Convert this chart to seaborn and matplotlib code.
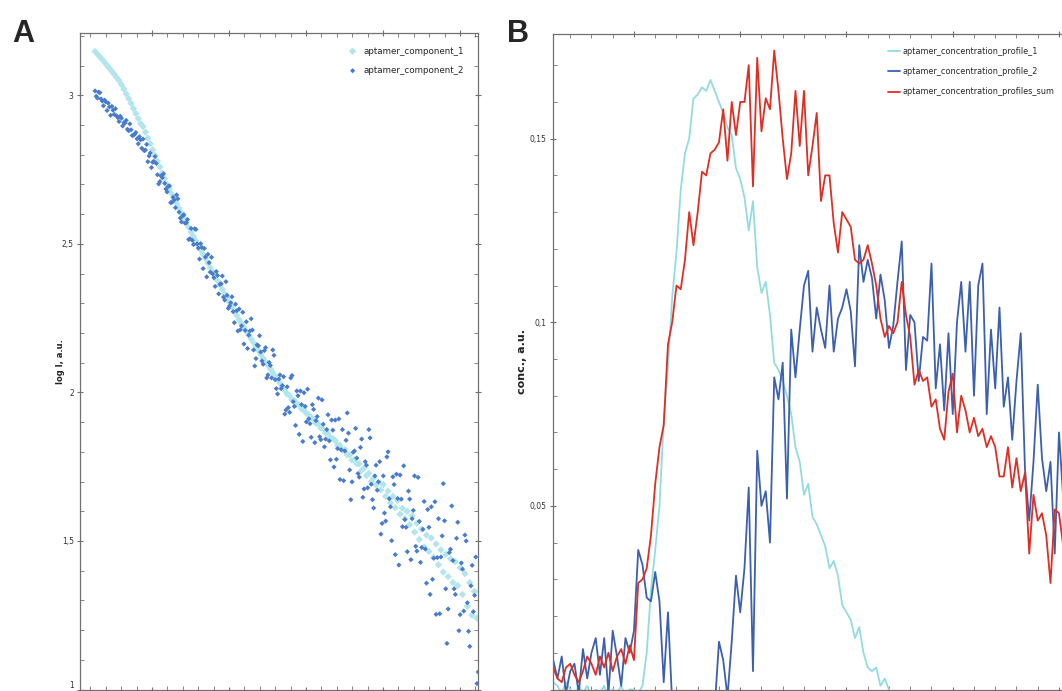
import numpy as np
import pandas as pd
import seaborn as sns
import matplotlib.pyplot as plt
from matplotlib.ticker import MultipleLocator, FuncFormatter

sns.set_style('ticks')
plt.rcParams['font.family'] = ['DejaVu Sans']

#------------------------- panel A: scattering curves -------------------------#
s_values = np.linspace(0.026, 0.522, 160)      # grid of component_1
s_fine = np.linspace(0.026, 0.5236, 320)       # grid of component_2 (denser)

component_1 = [3.148, 3.139, 3.130, 3.121, 3.111, 3.101, 3.091, 3.081, 3.071, 3.060,
               3.050, 3.036, 3.021, 3.005, 2.989, 2.973, 2.956, 2.939, 2.922, 2.905,
               2.895, 2.876, 2.856, 2.837, 2.817, 2.798, 2.778, 2.759, 2.739, 2.720,
               2.700, 2.684, 2.668, 2.652, 2.636, 2.620, 2.604, 2.588, 2.572, 2.556,
               2.540, 2.525, 2.510, 2.495, 2.480, 2.465, 2.450, 2.435, 2.420, 2.405,
               2.390, 2.376, 2.361, 2.347, 2.332, 2.318, 2.303, 2.289, 2.274, 2.260,
               2.245, 2.232, 2.219, 2.206, 2.193, 2.180, 2.167, 2.154, 2.141, 2.128,
               2.115, 2.103, 2.091, 2.079, 2.067, 2.055, 2.043, 2.031, 2.019, 2.007,
               1.995, 1.990, 1.976, 1.973, 1.960, 1.958, 1.944, 1.941, 1.930, 1.925,
               1.915, 1.910, 1.896, 1.894, 1.880, 1.877, 1.864, 1.861, 1.848, 1.845,
               1.838, 1.822, 1.822, 1.805, 1.808, 1.790, 1.790, 1.772, 1.775, 1.760,
               1.760, 1.738, 1.745, 1.720, 1.728, 1.700, 1.712, 1.688, 1.697, 1.672,
               1.690, 1.650, 1.668, 1.628, 1.650, 1.612, 1.636, 1.590, 1.610, 1.575,
               1.600, 1.555, 1.585, 1.530, 1.560, 1.505, 1.540, 1.480, 1.520, 1.465,
               1.510, 1.445, 1.490, 1.420, 1.470, 1.395, 1.455, 1.380, 1.440, 1.360,
               1.430, 1.350, 1.410, 1.320, 1.390, 1.280, 1.360, 1.250, 1.330, 1.240]

component_2 = [3.015, 2.997, 2.991, 3.011, 3.009, 2.988, 2.981, 2.965, 2.984, 2.978,
               2.949, 2.974, 2.961, 2.933, 2.963, 2.950, 2.936, 2.955, 2.931, 2.925,
               2.912, 2.930, 2.923, 2.897, 2.908, 2.907, 2.916, 2.886, 2.881, 2.904,
               2.884, 2.865, 2.866, 2.869, 2.875, 2.854, 2.837, 2.861, 2.850, 2.822,
               2.853, 2.814, 2.816, 2.835, 2.777, 2.796, 2.806, 2.757, 2.775, 2.778,
               2.794, 2.771, 2.733, 2.702, 2.710, 2.729, 2.723, 2.736, 2.704, 2.685,
               2.675, 2.694, 2.695, 2.639, 2.640, 2.657, 2.648, 2.622, 2.665, 2.652,
               2.607, 2.587, 2.574, 2.595, 2.598, 2.570, 2.571, 2.582, 2.515, 2.517,
               2.552, 2.512, 2.498, 2.551, 2.549, 2.500, 2.486, 2.449, 2.501, 2.488,
               2.417, 2.485, 2.456, 2.389, 2.465, 2.437, 2.405, 2.455, 2.399, 2.386,
               2.357, 2.407, 2.394, 2.332, 2.364, 2.366, 2.392, 2.321, 2.311, 2.373,
               2.327, 2.283, 2.291, 2.302, 2.322, 2.272, 2.235, 2.297, 2.275, 2.207,
               2.281, 2.211, 2.224, 2.270, 2.163, 2.209, 2.238, 2.148, 2.193, 2.207,
               2.248, 2.210, 2.143, 2.089, 2.114, 2.160, 2.157, 2.191, 2.136, 2.106,
               2.095, 2.141, 2.151, 2.049, 2.059, 2.101, 2.091, 2.049, 2.143, 2.125,
               2.043, 2.013, 1.995, 2.045, 2.059, 2.013, 2.023, 2.053, 1.927, 1.941,
               2.019, 1.949, 1.933, 2.049, 2.057, 1.969, 1.953, 1.889, 2.005, 1.989,
               1.859, 2.005, 1.959, 1.835, 1.999, 1.953, 1.901, 2.011, 1.911, 1.895,
               1.849, 1.959, 1.943, 1.831, 1.905, 1.919, 1.981, 1.851, 1.841, 1.975,
               1.893, 1.817, 1.843, 1.875, 1.925, 1.837, 1.773, 1.907, 1.873, 1.749,
               1.907, 1.775, 1.811, 1.911, 1.707, 1.807, 1.875, 1.703, 1.803, 1.839,
               1.931, 1.863, 1.739, 1.639, 1.699, 1.799, 1.803, 1.879, 1.779, 1.727,
               1.715, 1.815, 1.843, 1.647, 1.675, 1.767, 1.755, 1.679, 1.875, 1.847,
               1.691, 1.639, 1.611, 1.719, 1.755, 1.671, 1.699, 1.767, 1.523, 1.559,
               1.719, 1.594, 1.567, 1.783, 1.800, 1.642, 1.615, 1.501, 1.716, 1.690,
               1.454, 1.725, 1.643, 1.419, 1.722, 1.641, 1.548, 1.753, 1.572, 1.546,
               1.464, 1.668, 1.641, 1.437, 1.575, 1.603, 1.719, 1.482, 1.466, 1.714,
               1.566, 1.428, 1.478, 1.539, 1.633, 1.473, 1.358, 1.606, 1.546, 1.320,
               1.615, 1.371, 1.442, 1.632, 1.253, 1.444, 1.575, 1.255, 1.446, 1.517,
               1.693, 1.568, 1.339, 1.155, 1.271, 1.461, 1.472, 1.618, 1.434, 1.339,
               1.320, 1.509, 1.563, 1.198, 1.252, 1.426, 1.405, 1.264, 1.520, 1.500,
               1.292, 1.196, 1.145, 1.349, 1.418, 1.262, 1.317, 1.446, 1.020, 1.059]

#---------------------- panel B: concentration profiles -----------------------#
frames = np.arange(162, 404, 2)

profile_1 = [0.002, 0.001, -0.001, 0.002, 0.000, -0.002, 0.001, -0.001, 0.001, -0.002,
             0.000, -0.001, 0.001, -0.002, 0.000, -0.001, 0.001, -0.002, 0.000, 0.000,
             -0.001, 0.001, 0.010, 0.027, 0.038, 0.050, 0.073, 0.088, 0.107, 0.119,
             0.136, 0.146, 0.150, 0.161, 0.162, 0.164, 0.163, 0.166, 0.163, 0.160,
             0.157, 0.153, 0.151, 0.142, 0.139, 0.134, 0.125, 0.133, 0.115, 0.108,
             0.111, 0.102, 0.089, 0.087, 0.084, 0.080, 0.075, 0.066, 0.062, 0.053,
             0.056, 0.047, 0.045, 0.042, 0.039, 0.033, 0.035, 0.031, 0.023, 0.021,
             0.019, 0.014, 0.017, 0.010, 0.006, 0.005, 0.006, 0.001, 0.003, 0.000,
             -0.002, -0.003, -0.002, -0.004, -0.003, -0.004, -0.005, -0.004, -0.005, -0.006,
             -0.005, -0.006, -0.006, -0.007, -0.006, -0.007, -0.007, -0.008, -0.007, -0.008,
             -0.008, -0.008, -0.009, -0.008, -0.009, -0.009, -0.009, -0.010, -0.009, -0.010,
             -0.010, -0.010, -0.010, -0.011, -0.010, -0.011, -0.011, -0.011, -0.011, -0.012,
             -0.012]

profile_2 = [0.008, 0.003, 0.009, -0.001, 0.005, 0.007, -0.001, 0.011, 0.003, 0.010,
             0.014, 0.004, 0.014, -0.001, 0.016, 0.009, 0.001, 0.014, 0.010, 0.016,
             0.038, 0.034, 0.025, 0.024, 0.032, 0.024, 0.002, 0.021, -0.004, -0.010,
             -0.015, -0.020, -0.020, -0.020, -0.020, -0.018, -0.015, -0.010, -0.005, 0.013,
             0.008, -0.002, 0.013, 0.031, 0.021, 0.033, 0.055, 0.005, 0.065, 0.050,
             0.054, 0.040, 0.085, 0.079, 0.089, 0.052, 0.098, 0.085, 0.098, 0.110,
             0.114, 0.092, 0.104, 0.098, 0.093, 0.110, 0.092, 0.101, 0.104, 0.109,
             0.103, 0.088, 0.121, 0.111, 0.117, 0.112, 0.101, 0.113, 0.106, 0.093,
             0.099, 0.111, 0.122, 0.087, 0.102, 0.100, 0.084, 0.096, 0.095, 0.116,
             0.082, 0.094, 0.076, 0.097, 0.075, 0.100, 0.111, 0.092, 0.111, 0.080,
             0.110, 0.116, 0.075, 0.098, 0.082, 0.104, 0.077, 0.085, 0.068, 0.084,
             0.097, 0.060, 0.046, 0.062, 0.083, 0.063, 0.054, 0.062, 0.037, 0.070,
             0.052]

profile_sum = [0.006, 0.003, 0.002, 0.006, 0.007, 0.004, 0.002, 0.005, 0.009, 0.007,
               0.004, 0.009, 0.006, 0.010, 0.005, 0.009, 0.011, 0.007, 0.012, 0.008,
               0.029, 0.030, 0.033, 0.042, 0.056, 0.066, 0.072, 0.094, 0.100, 0.110,
               0.109, 0.117, 0.130, 0.121, 0.130, 0.141, 0.140, 0.146, 0.147, 0.149,
               0.158, 0.144, 0.160, 0.151, 0.160, 0.160, 0.170, 0.137, 0.172, 0.152,
               0.161, 0.158, 0.174, 0.163, 0.150, 0.139, 0.146, 0.163, 0.148, 0.163,
               0.140, 0.148, 0.157, 0.133, 0.140, 0.140, 0.127, 0.119, 0.130, 0.128,
               0.126, 0.117, 0.116, 0.117, 0.121, 0.116, 0.110, 0.101, 0.096, 0.099,
               0.097, 0.100, 0.111, 0.102, 0.096, 0.083, 0.087, 0.084, 0.085, 0.077,
               0.079, 0.071, 0.068, 0.081, 0.086, 0.070, 0.080, 0.076, 0.070, 0.074,
               0.069, 0.071, 0.066, 0.069, 0.066, 0.058, 0.058, 0.066, 0.055, 0.063,
               0.054, 0.059, 0.037, 0.053, 0.046, 0.048, 0.042, 0.029, 0.049, 0.048,
               0.039]

profile_names = ['aptamer_concentration_profile_1', 'aptamer_concentration_profile_2',
                 'aptamer_concentration_profiles_sum']
profile_colors = ['#93dbe3', '#3c5fb0', '#df2e24']

#------------------------------------ plot ------------------------------------#
W, H = 1062, 691
fig = plt.figure(figsize=(W / 100, H / 100), dpi=100)
axA = fig.add_axes([80 / W, 1.5 / H, 398 / W, (H - 33 - 1.5) / H])
axB = fig.add_axes([553 / W, 1.5 / H, 513 / W, (H - 34 - 1.5) / H])

sns.scatterplot(x=s_values, y=component_1, ax=axA, color='#b2e6ec', marker='D',
                s=14, edgecolor='none', label='aptamer_component_1')
sns.scatterplot(x=s_fine, y=component_2, ax=axA, color='#4a7ccc', marker='D',
                s=7, edgecolor='none', label='aptamer_component_2')

dfB = pd.DataFrame({'frame': np.tile(frames, 3),
                    'conc': profile_1 + profile_2 + profile_sum,
                    'series': np.repeat(profile_names, len(frames))})
sns.lineplot(data=dfB, x='frame', y='conc', hue='series', palette=profile_colors,
             estimator=None, linewidth=1.3, ax=axB)


def comma_fmt(v, p):
    if abs(v) < 1e-9:
        return ''
    return ('%g' % round(v, 4)).replace('.', ',')


def style_axis(ax):
    for sp in ax.spines.values():
        sp.set_color('#707070')
        sp.set_linewidth(0.9)
        sp.set_visible(True)
    ax.tick_params(which='both', top=True, right=True, bottom=True, left=True,
                   labelbottom=False, labelsize=5.5, labelcolor='#333333', color='#707070', pad=2)
    ax.tick_params(which='major', direction='inout', length=5, width=0.8)
    ax.tick_params(which='minor', direction='in', length=3, width=0.6)
    ax.set_xlabel('')


# panel A axes
axA.set_xlim(0.0065, 0.5234)
axA.set_ylim(1.0, 3.21)
axA.xaxis.set_major_locator(MultipleLocator(0.1))
axA.xaxis.set_minor_locator(MultipleLocator(0.02))
axA.yaxis.set_major_locator(MultipleLocator(0.5))
axA.yaxis.set_minor_locator(MultipleLocator(0.1))
axA.yaxis.set_major_formatter(FuncFormatter(lambda v, p: ('%g' % round(v, 3)).replace('.', ',')))
style_axis(axA)
axA.set_ylabel('log I, a.u.', fontsize=6, fontweight='bold', color='#222222')
axA.yaxis.set_label_coords(-15 / 398, 0.5)
axA.legend(loc='upper right', bbox_to_anchor=(468 / W, 1 - 43 / H), bbox_transform=fig.transFigure,
           frameon=False, fontsize=6.3, labelspacing=1.2, handletextpad=0.3, borderaxespad=0)
fig.canvas.draw()
for lab in axA.get_yticklabels():
    if lab.get_text() == '1':
        lab.set_va('bottom')

# panel B axes
axB.set_xlim(161.9, 403.3)
axB.set_ylim(0, 0.1785)
axB.xaxis.set_major_locator(MultipleLocator(50))
axB.xaxis.set_minor_locator(MultipleLocator(10))
axB.yaxis.set_major_locator(MultipleLocator(0.05))
axB.yaxis.set_minor_locator(MultipleLocator(0.01))
axB.yaxis.set_major_formatter(FuncFormatter(comma_fmt))
style_axis(axB)
axB.set_ylabel('conc., a.u.', fontsize=8, fontweight='bold', color='#222222')
axB.yaxis.set_label_coords(-26 / 513, 0.5)
axB.legend(loc='upper right', bbox_to_anchor=(1058 / W, 1 - 44 / H), bbox_transform=fig.transFigure,
           frameon=False, fontsize=5.9, labelspacing=1.35, handlelength=1.5, handletextpad=0.3,
           borderaxespad=0)

fig.text(12 / W, 1 - 42 / H, 'A', fontsize=22, fontweight='bold', family='Liberation Sans', va='baseline')
fig.text(507 / W, 1 - 42 / H, 'B', fontsize=22, fontweight='bold', family='Liberation Sans', va='baseline')

fig.savefig('out.png', dpi=100)
